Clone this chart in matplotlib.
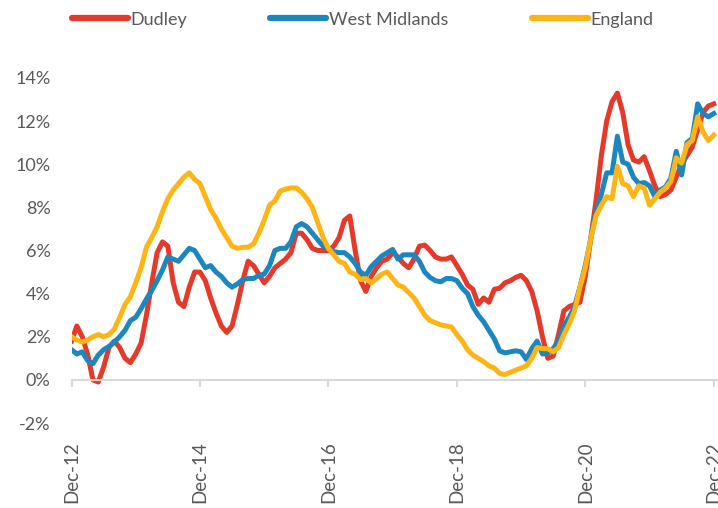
import numpy as np
import matplotlib
matplotlib.use('Agg')
import matplotlib.pyplot as plt

# monthly, Dec-12 .. Dec-22
dudley = [1.8, 2.5, 2.0, 1.2, 0.0, -0.1, 0.6, 1.5, 1.8, 1.5, 1.0, 0.8,
          1.2, 1.7, 3.0, 4.5, 5.9, 6.4, 6.2, 4.5, 3.6, 3.4, 4.3, 5.0,
          5.0, 4.6, 3.8, 3.1, 2.5, 2.2, 2.5, 3.5, 4.6, 5.5, 5.3, 4.9,
          4.5, 4.8, 5.2, 5.4, 5.6, 5.9, 6.8, 6.8, 6.5, 6.1, 6.0, 6.0,
          6.0, 6.2, 6.6, 7.4, 7.6, 6.0, 4.6, 4.1, 4.8, 5.2, 5.5, 5.6,
          5.9, 5.7, 5.4, 5.2, 5.6, 6.2, 6.25, 6.0, 5.7, 5.6, 5.6, 5.7,
          5.3, 4.9, 4.4, 4.2, 3.5, 3.8, 3.6, 4.2, 4.25, 4.5, 4.6, 4.75,
          4.85, 4.6, 4.1, 3.2, 2.0, 1.0, 1.1, 2.1, 3.2, 3.4, 3.5, 3.6,
          4.8, 6.5, 8.3, 10.4, 12.0, 12.9, 13.3, 12.4, 10.9, 10.2, 10.1, 10.35,
          9.7, 9.0, 8.5, 8.6, 8.8, 9.4, 10.0, 10.4, 10.8, 11.6, 12.4, 12.7,
          12.8]

west_midlands = [1.4, 1.2, 1.3, 0.9, 0.75, 1.15, 1.4, 1.55, 1.75, 2.0, 2.3, 2.75,
                 2.9, 3.3, 3.75, 4.15, 4.6, 5.1, 5.7, 5.6, 5.5, 5.8, 6.1, 6.0,
                 5.6, 5.2, 5.3, 5.0, 4.8, 4.5, 4.3, 4.45, 4.65, 4.7, 4.7, 4.85,
                 4.9, 5.3, 6.0, 6.1, 6.1, 6.4, 7.1, 7.25, 7.1, 6.8, 6.5, 6.2,
                 6.1, 5.95, 5.9, 5.9, 5.7, 5.4, 5.0, 4.85, 5.25, 5.5, 5.75, 5.9,
                 6.05, 5.6, 5.8, 5.8, 5.8, 5.5, 5.0, 4.75, 4.6, 4.55, 4.7, 4.7,
                 4.6, 4.25, 4.0, 3.4, 3.0, 2.7, 2.3, 1.9, 1.35, 1.25, 1.3, 1.35,
                 1.3, 0.95, 1.45, 1.8, 1.2, 1.25, 1.45, 1.8, 2.5, 2.9, 3.4, 4.3,
                 5.3, 6.5, 7.8, 8.6, 9.6, 9.6, 11.3, 10.1, 10.0, 9.4, 9.1, 9.15,
                 9.0, 8.5, 8.8, 8.95, 9.35, 10.6, 9.5, 11.0, 11.2, 12.8, 12.35, 12.2,
                 12.35]

england = [2.0, 1.85, 1.75, 1.85, 2.0, 2.1, 2.0, 2.1, 2.35, 2.9, 3.5, 3.85,
           4.5, 5.2, 6.15, 6.6, 7.1, 7.8, 8.4, 8.8, 9.1, 9.4, 9.6, 9.3,
           9.1, 8.5, 7.9, 7.5, 7.0, 6.6, 6.2, 6.1, 6.15, 6.15, 6.3, 6.8,
           7.4, 8.1, 8.3, 8.75, 8.85, 8.9, 8.9, 8.7, 8.4, 8.0, 7.3, 6.6,
           6.1, 5.8, 5.5, 5.4, 5.0, 4.9, 4.65, 4.7, 4.5, 4.7, 4.9, 5.0,
           4.7, 4.4, 4.3, 4.05, 3.8, 3.4, 3.0, 2.75, 2.65, 2.55, 2.5, 2.45,
           2.1, 1.8, 1.4, 1.15, 1.0, 0.85, 0.65, 0.55, 0.3, 0.25, 0.35, 0.45,
           0.55, 0.65, 1.0, 1.5, 1.45, 1.45, 1.3, 1.5, 2.1, 2.6, 3.2, 4.3,
           5.2, 6.5, 7.6, 8.1, 8.5, 8.4, 9.9, 9.1, 9.0, 8.5, 9.0, 8.9,
           8.1, 8.4, 8.7, 8.9, 9.2, 10.3, 10.05, 10.9, 11.1, 12.2, 11.5, 11.1,
           11.35]

tick_pos = [0, 24, 48, 72, 96, 120]
tick_labels = ['Dec-12', 'Dec-14', 'Dec-16', 'Dec-18', 'Dec-20', 'Dec-22']
y_ticks = [-2, 0, 2, 4, 6, 8, 10, 12, 14]

plt.rcParams['font.family'] = ['Lato', 'DejaVu Sans']
text_col = '#595959'

fig = plt.figure(figsize=(7.18, 5.08), dpi=100)
ax = fig.add_axes([0.0996, 0.1673, 0.9004, 0.6792])

months = np.arange(len(dudley))
ax.plot(months, dudley, color='#E5392A', lw=3.6, label='Dudley', solid_joinstyle='round')
ax.plot(months, west_midlands, color='#1C87BF', lw=3.6, label='West Midlands', solid_joinstyle='round')
ax.plot(months, england, color='#FDB515', lw=3.6, label='England', solid_joinstyle='round')

ax.set_xlim(0, 120.8)
ax.set_ylim(-2, 14)
ax.set_yticks(y_ticks)
ax.set_yticklabels([f'{v}%' for v in y_ticks])
ax.set_xticks(tick_pos)
ax.set_xticklabels(tick_labels)

for s in ['top', 'right', 'left']:
    ax.spines[s].set_visible(False)
ax.spines['bottom'].set_position(('data', 0))
ax.spines['bottom'].set_color('#D9D9D9')
ax.spines['bottom'].set_linewidth(1.5)
ax.tick_params(axis='x', direction='out', length=5, width=1.5, color='#D9D9D9',
               pad=39, labelsize=13.5, labelcolor=text_col, labelrotation=90)
ax.tick_params(axis='y', length=0, pad=15, labelsize=13, labelcolor=text_col)
for lbl in ax.get_xticklabels():
    lbl.set_va('top')
    lbl.set_ha('center')

leg = fig.legend(loc='center', bbox_to_anchor=(0.505, 0.961), ncol=3, frameon=False,
                 fontsize=13, handlelength=3.1, handletextpad=0.15, columnspacing=4.6)
for t in leg.get_texts():
    t.set_color(text_col)
for h in leg.get_lines():
    h.set_linewidth(4.5)
    h.set_solid_capstyle('round')

fig.savefig('out.png', dpi=100)
